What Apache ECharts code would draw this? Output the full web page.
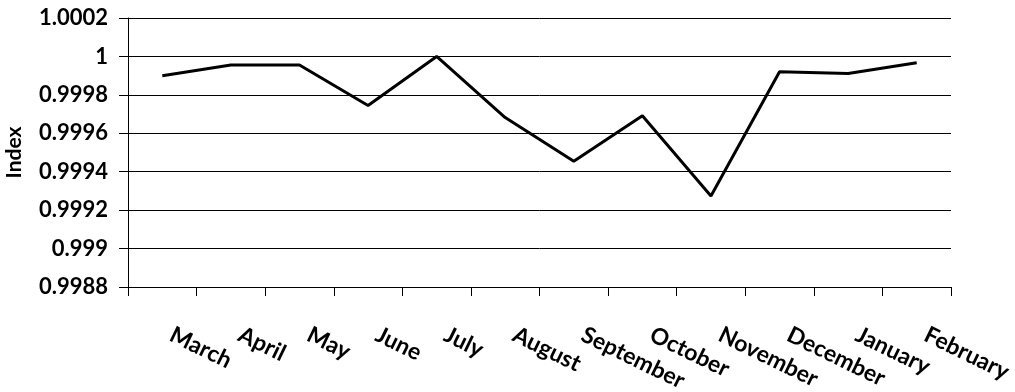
<!DOCTYPE html>
<html>
<head>
<meta charset="utf-8">
<script src="https://cdn.jsdelivr.net/npm/echarts@6/dist/echarts.min.js"></script>
<style>
html,body{margin:0;padding:0;background:#fff;}
#chart{width:1015px;height:392px;}
</style>
</head>
<body>
<div id="chart"></div>
<script>
const categories = ['March','April','May','June','July','August','September','October','November','December','January','February'];
const indexValues = [0.99990, 0.999955, 0.999955, 0.999745, 1.00000, 0.999682, 0.999455, 0.999691, 0.999274, 0.99992, 0.999911, 0.999967];
const yMin = 0.9988;
const yMax = 1.0002;
const yStep = 0.0002;

const font = 'Lato';
const chart = echarts.init(document.getElementById('chart'), null, {renderer: 'canvas'});
chart.setOption({
  animation: false,
  backgroundColor: '#ffffff',
  grid: {left: 128, right: 64, top: 18, bottom: 105, containLabel: false, outerBoundsMode: 'none'},
  xAxis: {
    type: 'category',
    data: categories,
    boundaryGap: true,
    axisLine: {show: true, lineStyle: {color: '#000', width: 1}},
    axisTick: {show: true, length: 9, inside: false, lineStyle: {color: '#000', width: 1}},
    axisLabel: {
      interval: 0, rotate: -26, margin: 42, hideOverlap: false,
      padding: [0, 0, 0, 10],
      color: '#000', fontFamily: font, fontWeight: 'bold', fontSize: 23
    },
    splitLine: {show: false}
  },
  yAxis: {
    type: 'value',
    min: yMin, max: yMax, interval: yStep,
    name: 'Index',
    nameLocation: 'middle',
    nameGap: 103,
    nameTextStyle: {color: '#000', fontFamily: font, fontWeight: 'bold', fontSize: 21},
    axisLine: {show: true, lineStyle: {color: '#000', width: 1}},
    axisTick: {show: true, length: 9, lineStyle: {color: '#000', width: 1}},
    axisLabel: {
      margin: 20, color: '#000', fontFamily: font, fontWeight: 'bold', fontSize: 22,
      formatter: v => String(Number(v.toFixed(4)))
    },
    splitLine: {show: true, lineStyle: {color: '#000', width: 1}}
  },
  series: [{
    type: 'line',
    data: indexValues,
    showSymbol: false,
    symbol: 'none',
    lineStyle: {color: '#000', width: 3},
    itemStyle: {color: '#000'}
  }]
});
</script>
</body>
</html>
